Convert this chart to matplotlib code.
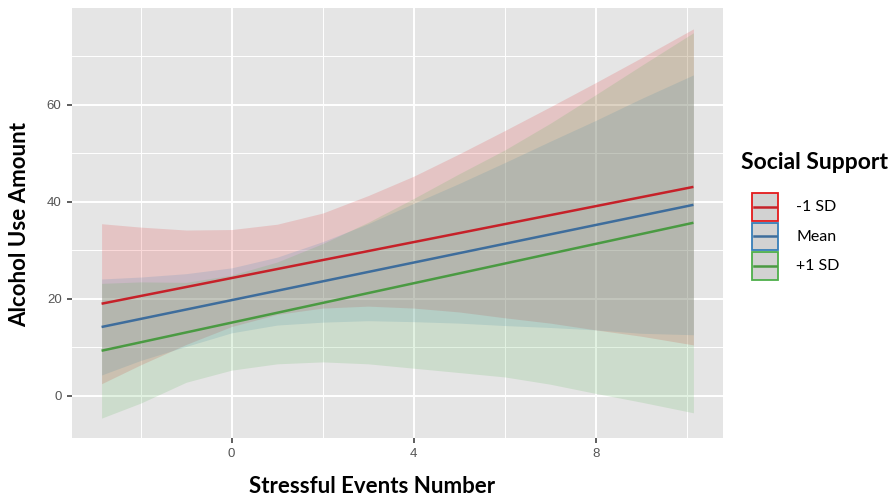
import matplotlib
matplotlib.use('Agg')
import matplotlib.pyplot as plt
from matplotlib.patches import Rectangle

# values
events = [-2.86, -2, -1, 0, 1, 2, 3, 4, 5, 6, 7, 8, 9, 10.15]
line_x = [-2.86, 10.15]

low_fit = [19.0, 43.1]
mean_fit = [14.2, 39.4]
high_fit = [9.3, 35.7]

low_upper = [35.5, 34.8, 34.2, 34.3, 35.4, 37.7, 41.3, 45.3, 49.9, 54.7, 59.6, 64.6, 69.7, 75.7]
low_lower = [2.5, 6.4, 10.6, 14.3, 16.8, 18.1, 18.5, 18.1, 17.3, 16.1, 15.0, 13.6, 12.3, 10.5]
mean_upper = [24.1, 24.5, 25.2, 26.4, 28.6, 31.8, 35.5, 39.7, 43.8, 48.1, 52.5, 56.8, 61.3, 66.2]
mean_lower = [4.3, 7.3, 10.2, 13.0, 14.6, 15.2, 15.5, 15.3, 15.0, 14.5, 14.1, 13.6, 12.9, 12.6]
high_upper = [23.2, 23.5, 23.4, 24.9, 27.6, 31.4, 35.8, 40.7, 45.8, 50.7, 56.2, 62.1, 68.1, 74.9]
high_lower = [-4.6, -1.5, 2.8, 5.3, 6.6, 7.0, 6.6, 5.7, 4.8, 3.9, 2.4, 0.5, -1.3, -3.5]

group_labels = ['-1 SD', 'Mean', '+1 SD']
x_ticks = [0, 4, 8]
y_ticks = [0, 20, 40, 60]

FILL_COLS = ['#E41A1C', '#377EB8', '#4DAF4A']
LINE_COLS = ['#C62129', '#3E6D9C', '#4A9A42']
PANEL = '#E5E5E5'
TICK_COL = '#555555'


def draw_panel(ax):
    uppers = [low_upper, mean_upper, high_upper]
    lowers = [low_lower, mean_lower, high_lower]
    fits = [low_fit, mean_fit, high_fit]
    for up, lo, col in zip(uppers, lowers, FILL_COLS):
        ax.fill_between(events, lo, up, color=col, alpha=0.16, lw=0, zorder=2)
    for fit, col in zip(fits, LINE_COLS):
        ax.plot(line_x, fit, color=col, lw=1.8, zorder=3, solid_capstyle='butt')

    ax.set_facecolor(PANEL)
    ax.set_xlim(-3.51, 10.80)
    ax.set_ylim(-8.7, 80.0)
    ax.set_xticks(x_ticks)
    ax.set_yticks(y_ticks)
    ax.set_xticks([-2, 2, 6, 10], minor=True)
    ax.set_yticks([10, 30, 50, 70], minor=True)
    ax.grid(which='major', color='white', lw=1.4, zorder=0)
    ax.grid(which='minor', color='white', lw=0.7, zorder=0)
    ax.set_axisbelow(True)
    for s in ax.spines.values():
        s.set_visible(False)
    ax.tick_params(which='major', length=3.5, width=1.1, color='#333333',
                   labelcolor=TICK_COL, labelsize=9.5, pad=4)
    ax.tick_params(which='minor', length=0)
    for lab in ax.get_xticklabels() + ax.get_yticklabels():
        lab.set_family('Liberation Sans')


def draw_legend(fig):
    lg = fig.add_axes([0, 0, 1, 1])
    lg.set_xlim(0, 890)
    lg.set_ylim(498, 0)
    lg.axis('off')
    lg.text(741, 162, 'Social Support', fontsize=16.5, fontweight='bold',
            family='Lato', va='center', ha='left')
    for i, (lab, fc, lc) in enumerate(zip(group_labels, FILL_COLS, LINE_COLS)):
        top = 193 + i * 29.5
        lg.add_patch(Rectangle((752, top), 26, 27.5, facecolor='#D2D2D2',
                               edgecolor=fc, lw=1.3))
        lg.plot([754, 776], [top + 13.75, top + 13.75], color=lc, lw=1.8)
        lg.text(796, top + 14, lab, fontsize=11.5, family='Lato',
                va='center', ha='left')


def main():
    fig = plt.figure(figsize=(8.9, 4.98), dpi=100)
    ax = fig.add_axes([72 / 890, 1 - 438 / 498, (723 - 72) / 890, (438 - 8) / 498])
    draw_panel(ax)
    fig.text(372 / 890, 1 - 486 / 498, 'Stressful Events Number', fontsize=16,
             fontweight='bold', family='Lato', ha='center', va='center')
    fig.text(20 / 890, 1 - 224 / 498, 'Alcohol Use Amount', fontsize=16,
             fontweight='bold', family='Lato', ha='center', va='center',
             rotation=90)
    draw_legend(fig)
    fig.savefig('out.png', dpi=100)


if __name__ == '__main__':
    main()
